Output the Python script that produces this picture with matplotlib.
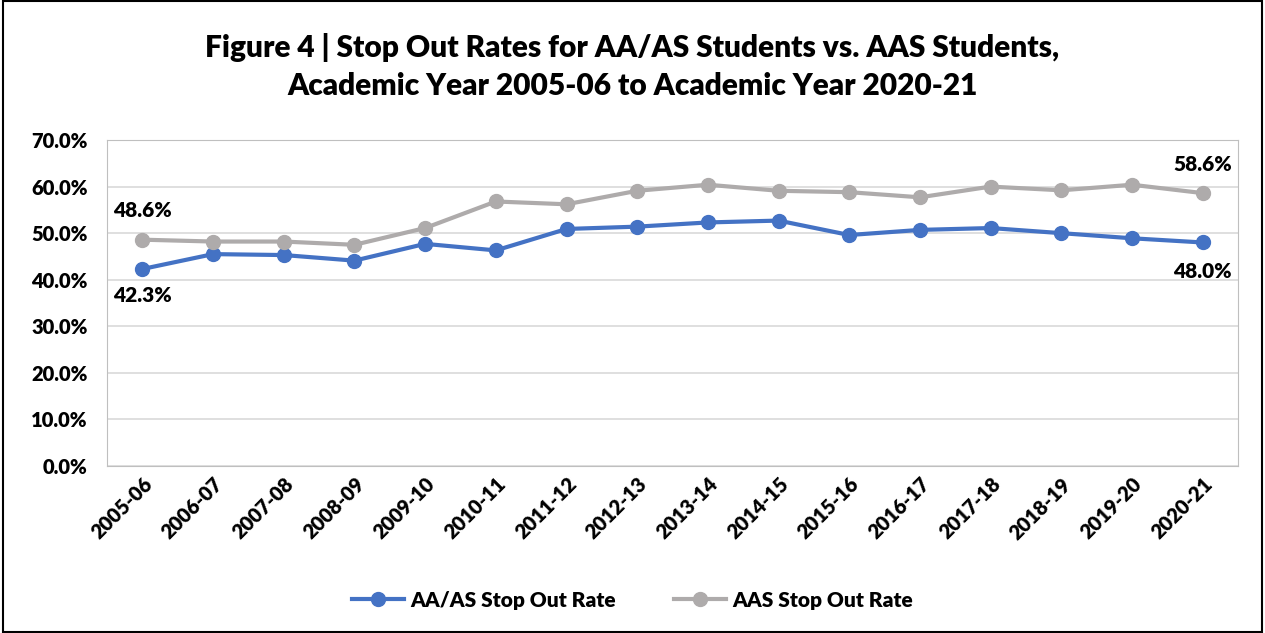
import numpy as np
import matplotlib.pyplot as plt
from matplotlib.patches import Rectangle
from matplotlib.ticker import FuncFormatter, MultipleLocator

# data
years = ['2005-06', '2006-07', '2007-08', '2008-09', '2009-10', '2010-11', '2011-12', '2012-13',
         '2013-14', '2014-15', '2015-16', '2016-17', '2017-18', '2018-19', '2019-20', '2020-21']
aa_as = [42.3, 45.5, 45.3, 44.1, 47.7, 46.3, 50.9, 51.4,
         52.3, 52.7, 49.6, 50.7, 51.1, 50.0, 48.9, 48.0]
aas = [48.6, 48.2, 48.2, 47.5, 51.1, 56.8, 56.2, 59.1,
       60.4, 59.1, 58.8, 57.7, 60.0, 59.2, 60.4, 58.6]

blue = '#4472C4'
grey = '#AEABAB'
W = 'heavy'

plt.rcParams['font.family'] = ['Lato', 'DejaVu Sans']
plt.rcParams['font.weight'] = W

fig = plt.figure(figsize=(12.65, 6.33), dpi=100)
ax = fig.add_axes([0.0846, 0.2638, 0.8941, 0.515])

x = np.arange(len(years))
ax.plot(x, aa_as, color=blue, lw=3, marker='o', ms=10, label='AA/AS Stop Out Rate')
ax.plot(x, aas, color=grey, lw=3, marker='o', ms=10, label='AAS Stop Out Rate')

ax.set_xlim(-0.5, len(years) - 0.5)
ax.set_ylim(0, 70)
ax.yaxis.set_major_locator(MultipleLocator(10))
ax.yaxis.set_major_formatter(FuncFormatter(lambda v, p: f'{v:.1f}%'))
ax.grid(axis='y', color='#D9D9D9', lw=1.2)
ax.set_axisbelow(True)
for s in ax.spines.values():
    s.set_color('#BFBFBF')
ax.tick_params(axis='both', length=0, labelsize=14.5)
ax.tick_params(axis='y', pad=14)
ax.tick_params(axis='x', pad=6)
ax.set_xticks(x)
ax.set_xticklabels(years, rotation=45, ha='right', rotation_mode='anchor', fontweight=W)
for t in ax.get_yticklabels():
    t.set_fontweight(W)

# end-point labels
lbl = dict(fontsize=15, fontweight=W, ha='center')
ax.annotate(f'{aas[0]:.1f}%', (x[0], aas[0]), xytext=(0, 14), textcoords='offset points', va='bottom', **lbl)
ax.annotate(f'{aa_as[0]:.1f}%', (x[0], aa_as[0]), xytext=(0, -12), textcoords='offset points', va='top', **lbl)
ax.annotate(f'{aas[-1]:.1f}%', (x[-1], aas[-1]), xytext=(0, 14), textcoords='offset points', va='bottom', **lbl)
ax.annotate(f'{aa_as[-1]:.1f}%', (x[-1], aa_as[-1]), xytext=(0, -14), textcoords='offset points', va='top', **lbl)

fig.text(0.5, 0.895, 'Figure 4 | Stop Out Rates for AA/AS Students vs. AAS Students,\n'
         'Academic Year 2005-06 to Academic Year 2020-21',
         ha='center', va='center', fontsize=21.5, fontweight=W, linespacing=1.45)

fig.legend(loc='center', bbox_to_anchor=(0.5, 0.052), ncol=2, frameon=False,
           prop={'size': 15, 'weight': W}, handlelength=2.5, handletextpad=0.3,
           columnspacing=2.8)

fig.patches.append(Rectangle((0.002, 0.002), 0.996, 0.996, transform=fig.transFigure,
                             fill=False, edgecolor='black', lw=1.5))

fig.savefig('out.png', dpi=100)
